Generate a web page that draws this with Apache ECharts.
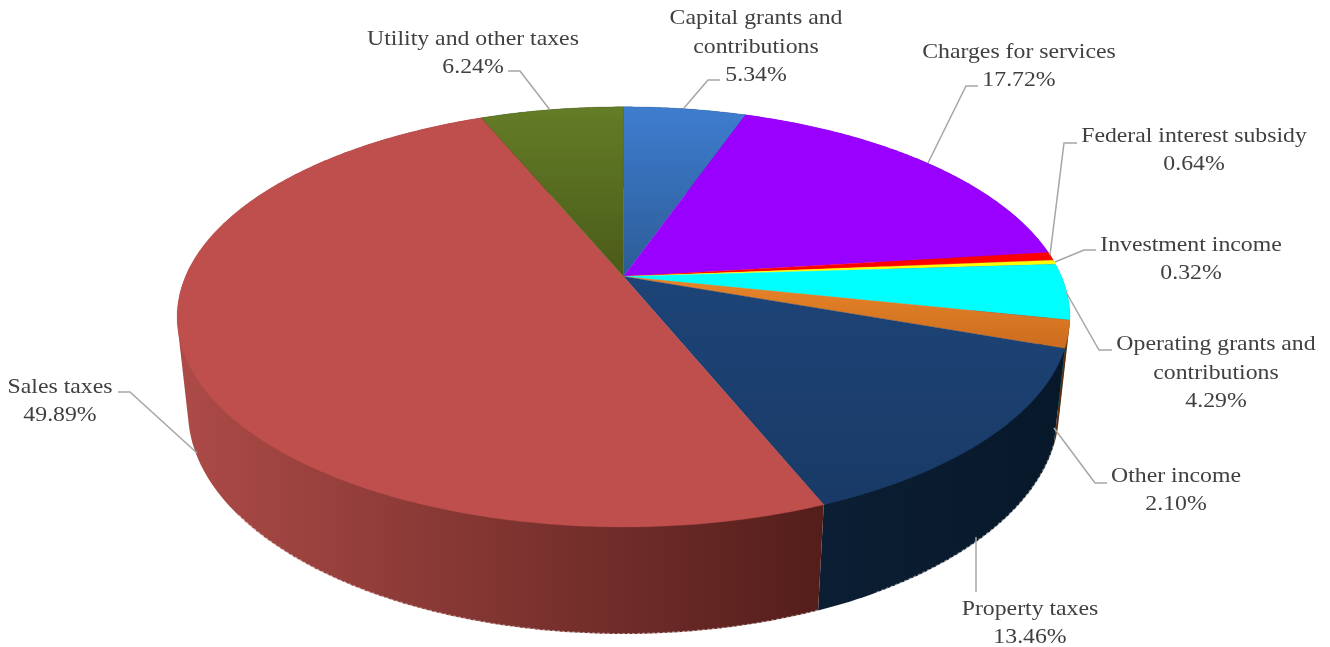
<!DOCTYPE html>
<html><head><meta charset="utf-8">
<style>html,body{margin:0;padding:0;background:#fff}#c{width:1330px;height:647px}</style>
<script src="https://cdn.jsdelivr.net/npm/echarts@6/dist/echarts.min.js"></script>
</head><body><div id="c"></div>
<script>
const categories = ["Capital grants and\ncontributions","Charges for services","Federal interest subsidy","Investment income","Operating grants and\ncontributions","Other income","Property taxes","Sales taxes","Utility and other taxes"];
const values = [5.34,17.72,0.64,0.32,4.29,2.10,13.46,49.89,6.24];
const topColors = [["#3E7DCF","#2C5C96"],["#9900FF","#9900FF"],["#FF0000","#FF0000"],["#FFFF00","#FFFF00"],["#00FFFF","#00FFFF"],["#E8862A","#CC6C1E"],["#1D4478","#193A66"],["#BE4F4C","#BE4F4C"],["#647D27","#4A5A18"]];
const wallColors = [["#2C5C96","#2C5C96"],["#6A00B0","#6A00B0"],["#A00000","#A00000"],["#A0A000","#A0A000"],["#00A0A0","#00A0A0"],["#5A2E10","#5A2E10"],["#0C1E33","#07182A"],["#AB4A46","#541E1B"],["#4A5A18","#4A5A18"]];
const labelCenters = [[756,47],[1019,66],[1194,150],[1191,259],[1216,373],[1176,490],[1030,623],[60,401],[473,53]];
const leaders = [
 [[720,80],[708,80],[684,108]],
 [[978,86],[966,86],[928,163]],
 [[1077,143],[1064,143],[1050,255]],
 [[1096,250],[1084,250],[1055,262]],
 [[1112,350],[1099,350],[1066,292]],
 [[1107,483],[1095,483],[1054,428]],
 [[976,592],[976,537]],
 [[118,392],[130,392],[197,453]],
 [[508,71],[520,71],[550,110]]
];
const scene = {cx:623.5, cy:276.5, a:438, b:202.3, c:0.1924, d:0.024, e:95};
const total = values.reduce((s,v)=>s+v,0);
const stops = []; values.reduce((s,v,i)=>{stops[i]=[s/total*2*Math.PI,(s+v)/total*2*Math.PI];return s+v;},0);
function proj(t,h){
  const u=Math.sin(t), v=-Math.cos(t), den=1-scene.c*v+scene.d*h;
  return [scene.cx+scene.a*u/den, scene.cy+(scene.b*v+scene.e*h)/den];
}
function arc(t0,t1,h){
  const n=Math.max(2,Math.ceil((t1-t0)/0.01)), p=[];
  for(let i=0;i<=n;i++)p.push(proj(t0+(t1-t0)*i/n,h));
  return p;
}
function hull(points){
  const p=points.slice().sort((m,n)=>m[0]-n[0]||m[1]-n[1]);
  const cross=(o,m,n)=>(m[0]-o[0])*(n[1]-o[1])-(m[1]-o[1])*(n[0]-o[0]);
  const lo=[],up=[];
  for(const q of p){while(lo.length>1&&cross(lo[lo.length-2],lo[lo.length-1],q)<=0)lo.pop();lo.push(q);}
  for(const q of p.reverse()){while(up.length>1&&cross(up[up.length-2],up[up.length-1],q)<=0)up.pop();up.push(q);}
  return lo.slice(0,-1).concat(up.slice(0,-1));
}
const LG = echarts.graphic.LinearGradient;
function wallItem(params){
  const i=params.dataIndex,[t0,t1]=stops[i];
  const pts=hull(arc(t0,t1,0).concat(arc(t0,t1,1)));
  const col=wallColors[i];
  const xs=pts.map(p=>p[0]);
  const left=i===7?190:Math.min(...xs), right=i===7?820:Math.max(...xs);
  const children=[{type:'polygon',shape:{points:pts},silent:true,
    style:{fill:new LG(left,0,right,0,[{offset:0,color:col[0]},{offset:1,color:col[1]}],true),stroke:'none',lineWidth:0}}];
  if(i===6||i===7){
    children.push({type:'polyline',shape:{points:arc(t0,i===7?t0+(t1-t0)*0.42:t1-(t1-t0)*0.15,1)},silent:true,
      style:{fill:'none',stroke:'rgba(255,255,255,0.45)',lineWidth:2,lineDash:[3,2]}});
  }
  return {type:'group',silent:true,children};
}
function topItem(params){
  const i=params.dataIndex,[t0,t1]=stops[i];
  const pts=[[scene.cx,scene.cy]].concat(arc(t0,t1,0));
  const col=topColors[i];
  const ys=pts.map(p=>p[1]);
  return {type:'polygon',shape:{points:pts},silent:true,
    style:{fill:new LG(0,Math.min(...ys),0,Math.max(...ys),[{offset:0,color:col[0]},{offset:1,color:col[1]}],true),stroke:col[1],lineWidth:0.3}};
}
function labelItem(params){
  const i=params.dataIndex,[x,y]=labelCenters[i];
  return {type:'group',silent:true,children:[
    {type:'polyline',shape:{points:leaders[i]},style:{fill:'none',stroke:'#A6A6A6',lineWidth:1.5}},
    {type:'text',x:x,y:y,scaleX:1.08,style:{text:categories[i]+"\n"+values[i].toFixed(2)+"%",align:'center',verticalAlign:'middle',
      font:'22px "Liberation Serif"',lineHeight:28.3,fill:'#404040'}}
  ]};
}
const chart=echarts.init(document.getElementById('c'),null,{renderer:'canvas'});
const mk=(name,fn,z)=>({type:'custom',name,coordinateSystem:'none',renderItem:fn,data:values,z,animation:false,silent:true,clip:false});
chart.setOption({animation:false,backgroundColor:'#fff',
  series:[mk('walls',wallItem,1),mk('tops',topItem,2),mk('labels',labelItem,3)]});
</script></body></html>
